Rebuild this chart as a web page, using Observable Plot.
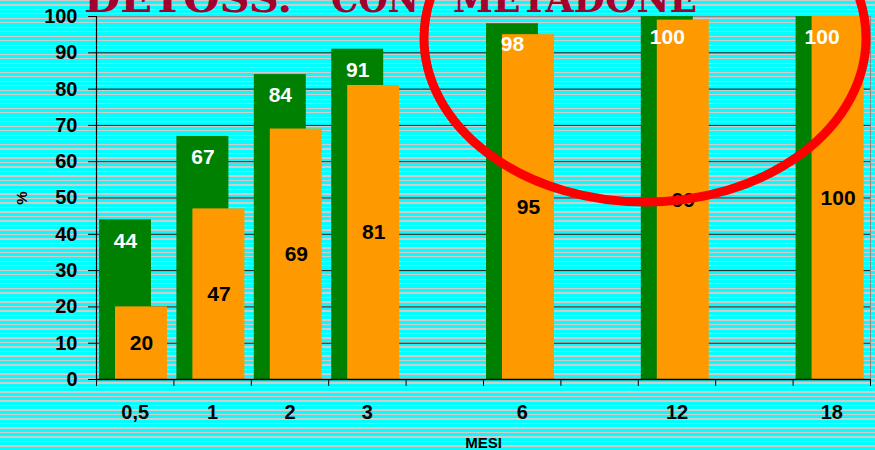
<!DOCTYPE html>
<html><head><meta charset="utf-8">
<script src="https://cdn.jsdelivr.net/npm/d3@7"></script>
<script src="https://cdn.jsdelivr.net/npm/@observablehq/plot@0.6"></script>
<style>
html,body{margin:0;padding:0;width:875px;height:450px;overflow:hidden;
background: repeating-linear-gradient(to bottom, #d4caca 0px, #d4caca 1px, #00ffff 1px, #00ffff 4.5px);}
#chart{position:relative;width:875px;height:450px;}
</style></head><body><div id="chart"></div>
<script>
// slots on the x axis (gaps are empty, unlabeled slots)
const slots = ["0,5","1","2","3","gap1","6","gap2","12","gap3","18"];
const months = ["0,5","1","2","3","6","12","18"];
const greenValues = [44,67,84,91,98,100,100];
const orangeValues = [20,47,69,81,95,99,100];
const yTicks = [0,10,20,30,40,50,60,70,80,90,100];
const titleWords = ["DETOSS.", "CON", "METADONE"];
const xLabel = "MESI";
const yLabel = "%";

const green = months.map((m,i)=>({month:m, value:greenValues[i]}));
const orange = months.map((m,i)=>({month:m, value:orangeValues[i]}));

const W=875, H=450, mL=96, mR=5, mT=16, mB=71;
const band = (W-mL-mR)/slots.length;

const plot = Plot.plot({
  width:W, height:H, marginLeft:mL, marginRight:mR, marginTop:mT, marginBottom:mB,
  style:{background:"transparent", fontFamily:"'Liberation Sans', Arial, sans-serif", fontWeight:"bold", color:"#000", overflow:"visible"},
  x:{domain:slots, padding:0, round:false, label:null},
  y:{domain:[0,100], label:null},
  marks:[
    Plot.gridY(yTicks.slice(1,-1), {stroke:"#000", strokeOpacity:0.85, strokeWidth:1}),
    Plot.frame({anchor:"top", stroke:"#8a8a8a"}),
    Plot.frame({anchor:"right", stroke:"#8a8a8a"}),
    Plot.barY(green, {x:"month", y:"value", fill:"#008000", insetLeft:3, insetRight:band-55}),
    Plot.barY(orange, {x:"month", y:"value", fill:"#FF9900", insetLeft:19, insetRight:band-71}),
    Plot.text(green, {x:"month", y:"value", text:d=>String(d.value), fill:"#fff", fontSize:21, fontWeight:"bold", dx:29-band/2, dy:21}),
    Plot.text(orange, {x:"month", y:d=>d.value/2, text:d=>String(d.value), fill:"#000", fontSize:21, fontWeight:"bold", dx:45-band/2}),
    Plot.frame({anchor:"left", stroke:"#000", strokeWidth:1.2}),
    Plot.ruleY([0], {stroke:"#000", strokeWidth:1.5}),
    Plot.axisY(yTicks, {tickSize:8, tickPadding:11, fontSize:20, label:null, stroke:"#000"}),
    Plot.axisY({ticks:[], label:yLabel, labelArrow:"none", labelAnchor:"center", labelOffset:80, fontSize:15}),
    Plot.axisX({tickSize:0, tickPadding:25, fontSize:20, tickFormat:d=>d.startsWith("gap")?"":d, label:null}),
    Plot.axisX({ticks:slots, tickSize:7, tickFormat:()=>"", dx:-band/2, label:null, stroke:"#000"}),
    Plot.axisX({ticks:[slots[slots.length-1]], tickSize:7, tickFormat:()=>"", dx:band/2, label:null, stroke:"#000"}),
    Plot.axisX({ticks:[], label:xLabel, labelArrow:"none", labelAnchor:"center", labelOffset:68, fontSize:15})
  ]
});

const svg = d3.select(plot);
// title (cut off at the top, as in the slide) – monospace-like spacing per word
const title = svg.append("text").attr("y",12)
  .attr("text-anchor","start")
  .attr("font-family","'DejaVu Serif', 'Liberation Serif', serif")
  .attr("font-weight","bold").attr("font-size",40).attr("fill","#a3002e")
  .style("white-space","pre");
const wordPos = [[84,208],[331,88],[453,244]];
titleWords.forEach((w,i)=>{
  title.append("tspan").attr("x",wordPos[i][0]).attr("textLength",wordPos[i][1])
    .attr("lengthAdjust","spacingAndGlyphs").text(w);
  if (i<titleWords.length-1) title.append("tspan").text(" ");
});
// red highlight ellipse annotation
svg.append("ellipse").attr("cx",645).attr("cy",38).attr("rx",221).attr("ry",164)
  .attr("fill","none").attr("stroke","#ff0000").attr("stroke-width",9);

document.getElementById("chart").appendChild(plot);
</script></body></html>
